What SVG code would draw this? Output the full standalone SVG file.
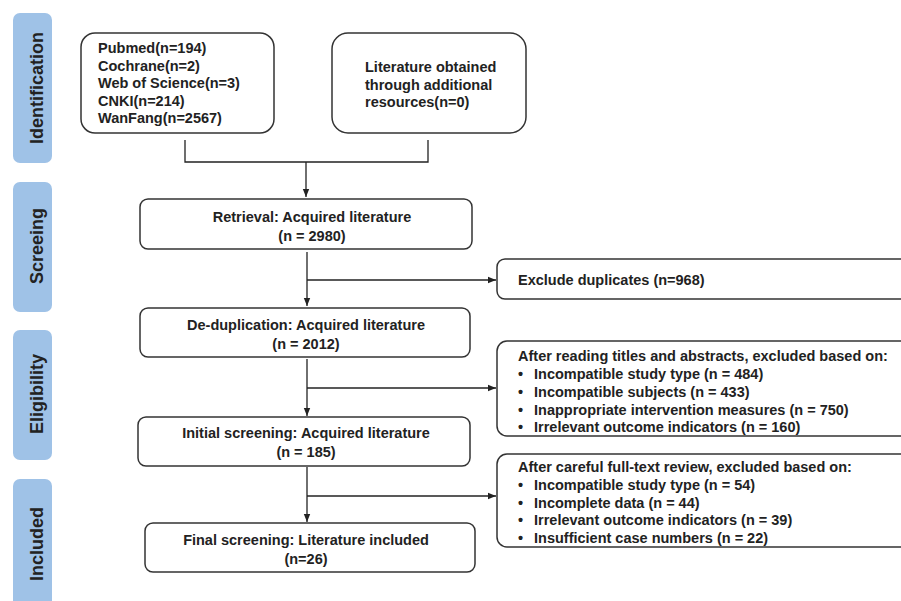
<svg xmlns="http://www.w3.org/2000/svg" width="901" height="601" viewBox="0 0 901 601">
<style>
.bar{fill:#9fc2e7;}
.bt{font-family:"Liberation Sans",Arial,sans-serif;font-weight:bold;font-size:18px;fill:#222;text-anchor:middle;}
.box{fill:#fff;stroke:#333;stroke-width:1.5;}
.t{font-family:"Liberation Sans",Arial,sans-serif;font-weight:bold;font-size:14.5px;fill:#222;}
.c{text-anchor:middle;}
.ln{fill:none;stroke:#222;stroke-width:1.3;}
</style>
<defs>
<marker id="ah" viewBox="0 0 10 10" refX="10" refY="5" markerWidth="8" markerHeight="8" markerUnits="userSpaceOnUse" orient="auto">
<path d="M0,1 L10,5 L0,9 z" fill="#222"/>
</marker>
</defs>
<rect width="901" height="601" fill="#fff"/>
<g id="phase-identification"><rect class="bar" x="13" y="13" width="39" height="150" rx="7"/><text class="bt" transform="translate(43,88) rotate(-90)">Identification</text></g>
<g id="phase-screening"><rect class="bar" x="13" y="182" width="39" height="130" rx="7"/><text class="bt" transform="translate(43,246) rotate(-90)">Screeing</text></g>
<g id="phase-eligibility"><rect class="bar" x="13" y="330" width="39" height="130" rx="7"/><text class="bt" transform="translate(43,394) rotate(-90)">Eligibility</text></g>
<g id="phase-included"><rect class="bar" x="13" y="479" width="39" height="140" rx="7"/><text class="bt" transform="translate(43,544) rotate(-90)">Included</text></g>

<g id="connectors">
<path class="ln" d="M185,140 V162 H428 V140"/>
<path class="ln" d="M306,162 V197" marker-end="url(#ah)"/>
<path class="ln" d="M307,252 V306" marker-end="url(#ah)"/>
<path class="ln" d="M307,280 H496" marker-end="url(#ah)"/>
<path class="ln" d="M307,359 V416" marker-end="url(#ah)"/>
<path class="ln" d="M307,388 H496" marker-end="url(#ah)"/>
<path class="ln" d="M307,467 V522" marker-end="url(#ah)"/>
<path class="ln" d="M307,496 H496" marker-end="url(#ah)"/>
</g>

<g id="databases"><rect class="box" x="81" y="33" width="193" height="100" rx="14"/>
<text class="t" x="98" y="53">Pubmed(n=194)</text>
<text class="t" x="98" y="70.5">Cochrane(n=2)</text>
<text class="t" x="98" y="88">Web of Science(n=3)</text>
<text class="t" x="98" y="105.5">CNKI(n=214)</text>
<text class="t" x="98" y="123">WanFang(n=2567)</text></g>

<g id="additional"><rect class="box" x="332" y="33" width="194" height="100" rx="16"/>
<text class="t" x="365" y="72">Literature obtained</text>
<text class="t" x="365" y="89.5">through additional</text>
<text class="t" x="365" y="107">resources(n=0)</text></g>

<g id="retrieval"><rect class="box" x="140" y="199" width="332" height="50" rx="8"/>
<text class="t c" x="312" y="222">Retrieval: Acquired literature</text>
<text class="t c" x="312" y="241">(n = 2980)</text></g>

<g id="exclude-dup"><rect class="box" x="497" y="259" width="420" height="40" rx="8"/>
<text class="t" x="518" y="285">Exclude duplicates (n=968)</text></g>

<g id="dedup"><rect class="box" x="140" y="308" width="330" height="49" rx="8"/>
<text class="t c" x="306" y="330">De-duplication: Acquired literature</text>
<text class="t c" x="306" y="349">(n = 2012)</text></g>

<g id="exclude-abstract"><rect class="box" x="497" y="341" width="420" height="95" rx="10"/>
<text class="t" x="518" y="361">After reading titles and abstracts, excluded based on:</text>
<text class="t" x="518" y="379">•</text><text class="t" x="534" y="379">Incompatible study type (n = 484)</text>
<text class="t" x="518" y="397">•</text><text class="t" x="534" y="397">Incompatible subjects (n = 433)</text>
<text class="t" x="518" y="415">•</text><text class="t" x="534" y="415">Inappropriate intervention measures (n = 750)</text>
<text class="t" x="518" y="432">•</text><text class="t" x="534" y="432">Irrelevant outcome indicators (n = 160)</text></g>

<g id="initial"><rect class="box" x="138" y="417" width="332" height="49" rx="8"/>
<text class="t c" x="306" y="438">Initial screening: Acquired literature</text>
<text class="t c" x="306" y="457">(n = 185)</text></g>

<g id="exclude-fulltext"><rect class="box" x="497" y="454" width="420" height="93" rx="10"/>
<text class="t" x="518" y="472">After careful full-text review, excluded based on:</text>
<text class="t" x="518" y="490">•</text><text class="t" x="534" y="490">Incompatible study type (n = 54)</text>
<text class="t" x="518" y="508">•</text><text class="t" x="534" y="508">Incomplete data (n = 44)</text>
<text class="t" x="518" y="525">•</text><text class="t" x="534" y="525">Irrelevant outcome indicators (n = 39)</text>
<text class="t" x="518" y="543">•</text><text class="t" x="534" y="543">Insufficient case numbers (n = 22)</text></g>

<g id="final"><rect class="box" x="145" y="523" width="330" height="49" rx="8"/>
<text class="t c" x="306" y="545">Final screening: Literature included</text>
<text class="t c" x="306" y="564">(n=26)</text></g>
</svg>
